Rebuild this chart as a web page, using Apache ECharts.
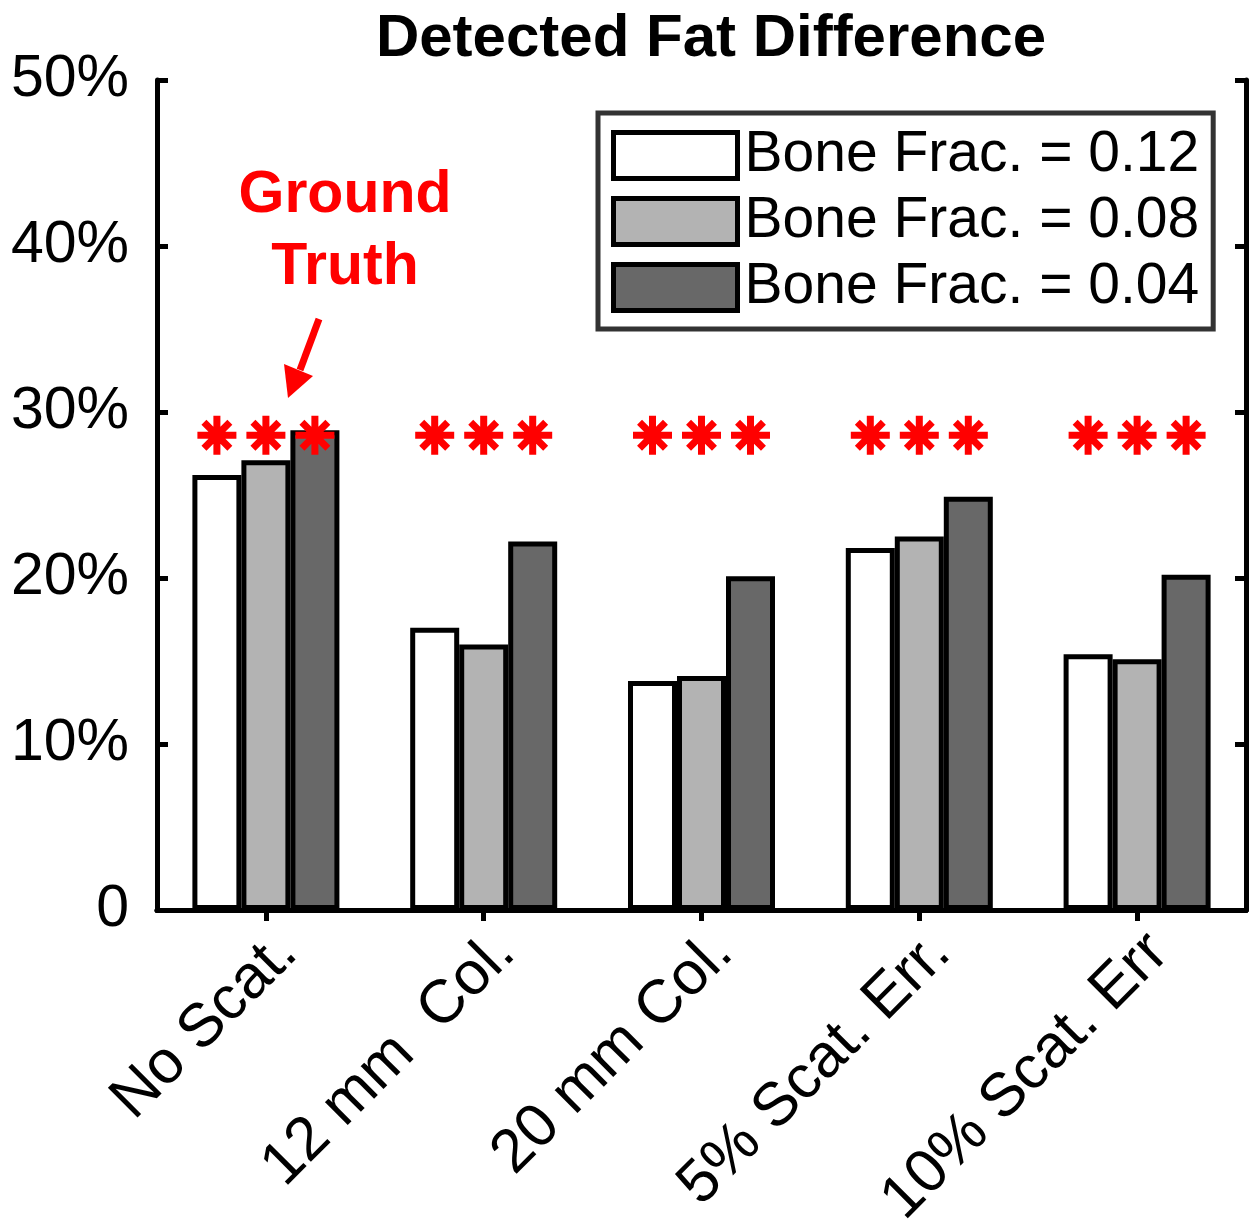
<!DOCTYPE html>
<html>
<head>
<meta charset="utf-8">
<script src="https://cdn.jsdelivr.net/npm/echarts@6/dist/echarts.min.js"></script>
<style>
  html, body { margin: 0; padding: 0; background: #fff; }
  #chart { width: 1260px; height: 1225px; }
</style>
</head>
<body>
<div id="chart"></div>
<script>
// 数据
const categories = ['No Scat.', '12 mm  Col.', '20 mm Col.', '5% Scat. Err.', '10% Scat. Err'];
const seriesNames = ['Bone Frac. = 0.12', 'Bone Frac. = 0.08', 'Bone Frac. = 0.04'];
const frac012 = [26.2, 17.0, 13.8, 21.8, 15.4];
const frac008 = [27.1, 16.0, 14.1, 22.5, 15.1];
const frac004 = [28.9, 22.2, 20.1, 24.9, 20.2];
const groundTruth = [28.6, 28.6, 28.6];
const yTicks = [0, 10, 20, 30, 40, 50];

const fills = ['#ffffff', '#b3b3b3', '#686868'];
const fontFamily = '"Liberation Sans", Arial, sans-serif';

// 星号标记（十字 + 斜十字）
const asterisk = 'path://M0,41 L100,41 L100,59 L0,59 Z M41,0 L59,0 L59,100 L41,100 Z ' +
  'M76.87,89.59 L10.41,23.13 L23.13,10.41 L89.59,76.87 Z ' +
  'M89.59,23.13 L23.13,89.59 L10.41,76.87 L76.87,10.41 Z';

const chart = echarts.init(document.getElementById('chart'));

const seriesData = [frac012, frac008, frac004];

const series = seriesData.map((vals, i) => ({
  name: seriesNames[i],
  type: 'bar',
  data: vals,
  barWidth: 49,
  barGap: '0%',
  itemStyle: { color: fills[i], borderColor: '#000', borderWidth: 5 },
  emphasis: { disabled: true },
  markPoint: {
    symbol: asterisk,
    symbolSize: 39,
    itemStyle: { color: '#ff0000' },
    label: { show: false },
    data: categories.map((c, ci) => ({ coord: [ci, groundTruth[i]] })),
  },
}));

const axisLine = { show: true, lineStyle: { color: '#000', width: 5 } };
const axisTick = { show: true, inside: true, length: 11, lineStyle: { color: '#000', width: 5 } };

const option = {
  animation: false,
  backgroundColor: '#fff',
  title: {
    text: 'Detected Fat Difference',
    left: 706,
    top: 4,
    textAlign: 'center',
    textStyle: { fontFamily, fontSize: 60, fontWeight: 'bold', color: '#000' },
  },
  legend: {
    data: seriesNames,
    orient: 'vertical',
    left: 598,
    top: 113,
    padding: [14, 14, 13, 13],
    itemGap: 9,
    itemWidth: 124,
    itemHeight: 46,
    icon: 'rect',
    backgroundColor: '#fff',
    borderColor: '#333',
    borderWidth: 5,
    borderRadius: 0,
    itemStyle: { borderColor: '#000', borderWidth: 5 },
    textStyle: { fontFamily, fontSize: 57, color: '#000', padding: [0, 0, 0, 2] },
  },
  grid: { left: 157, right: 14, top: 80, bottom: 315, outerBoundsMode: 'none', containLabel: false },
  xAxis: [
    {
      type: 'category',
      data: categories,
      position: 'bottom',
      axisLine,
      axisTick: Object.assign({ alignWithLabel: true }, axisTick),
      axisLabel: {
        rotate: 45,
        margin: 12,
        verticalAlign: 'top',
        fontFamily,
        fontSize: 61,
        color: '#000',
      },
      splitLine: { show: false },
    },
    {
      type: 'category',
      data: categories,
      position: 'top',
      axisLine,
      axisTick: Object.assign({ alignWithLabel: true }, axisTick),
      axisLabel: { show: false },
    },
  ],
  yAxis: [
    {
      type: 'value',
      min: yTicks[0],
      max: yTicks[yTicks.length - 1],
      interval: 10,
      position: 'left',
      axisLine,
      axisTick,
      splitLine: { show: false },
      axisLabel: {
        margin: 28,
        fontFamily,
        fontSize: 59,
        color: '#000',
        formatter: (v) => (v === 0 ? '0' : v + '%'),
      },
    },
    {
      type: 'value',
      min: yTicks[0],
      max: yTicks[yTicks.length - 1],
      interval: 10,
      position: 'right',
      axisLine,
      axisTick,
      splitLine: { show: false },
      axisLabel: { show: false },
    },
  ],
  series,
  graphic: [
    {
      type: 'text',
      x: 345,
      y: 160,
      style: {
        text: 'Ground\nTruth',
        fill: '#ff0000',
        font: 'bold 59px "Liberation Sans", Arial, sans-serif',
        align: 'center',
        verticalAlign: 'top',
        lineHeight: 72,
      },
    },
    {
      type: 'line',
      shape: { x1: 319, y1: 319, x2: 300, y2: 370 },
      style: { stroke: '#ff0000', lineWidth: 7 },
    },
    {
      type: 'polygon',
      shape: { points: [[284, 364], [313, 376], [288, 398]] },
      style: { fill: '#ff0000' },
    },
  ],
};

chart.setOption(option);
</script>
</body>
</html>
